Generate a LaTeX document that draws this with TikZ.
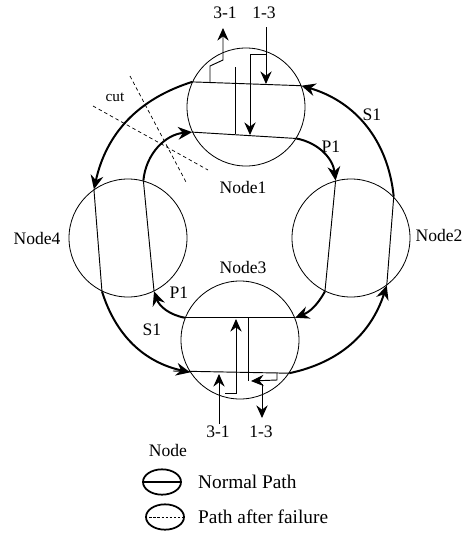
\documentclass[tikz,border=0pt]{standalone}
\usepackage{fontspec}
\setmainfont{Liberation Serif}
\usetikzlibrary{arrows.meta, shapes.geometric}

\begin{document}
\begin{tikzpicture}[
        x=0.3mm, y=0.3mm,
        ring/.style={circle, draw=black, line width=0.7pt, minimum size=35.4mm, inner sep=0pt},
        lbl/.style={font=\fontsize{15}{18}\selectfont, inner sep=0pt},
        legtext/.style={font=\fontsize{16.5}{20}\selectfont, inner sep=0pt, anchor=west},
        legring/.style={ellipse, draw=black, line width=1.5pt, minimum width=11.4mm, minimum height=7.6mm, inner sep=0pt},
        fiber/.style={line width=0.8pt},
        route/.style={line width=1.7pt, -{Stealth[length=4.2mm, width=3.8mm, inset=1.4mm]}},
        tip/.style={line width=0.8pt, -{Stealth[length=3.8mm, width=3.4mm, inset=1.3mm]}},
        cutline/.style={line width=0.6pt, dash pattern=on 3pt off 2.5pt}
    ]
    \useasboundingbox (0,0) rectangle (475,-533);

    % rings
    \node (n1) [ring] at (246,-107) {};
    \node (n2) [ring] at (351,-238) {};
    \node (n3) [ring] at (240,-340) {};
    \node (n4) [ring] at (128,-238) {};

    \node (l1) [lbl] at (243,-187) {Node1};
    \node (l2) [lbl] at (439,-235) {Node2};
    \node (l3) [lbl] at (243,-267) {Node3};
    \node (l4) [lbl] at (37,-238) {Node4};

    % paths through the rings
    \draw [fiber] (n1.155) -- (n1.21);
    \draw [fiber] (n1.205) -- (n1.328);
    \draw [fiber] (n4.125) -- (n4.244);
    \draw [fiber] (n4.75) -- (n4.296);
    \draw [fiber] (n2.105) -- (n2.244);
    \draw [fiber] (n2.44) -- (n2.307);
    \draw [fiber] (n3.158) -- (n3.22);
    \coordinate (s1end) at (173,-371);
    \draw [fiber] (s1end) -- (n3.326);

    % S1
    \draw [route] (n1.155) to[bend right=30] (n4.125);
    \draw [route] (n4.244) to[bend right=30] (n3.213);
    \draw [route] (n3.326) to[bend right=30] (n2.307);
    \draw [route] (n2.44) to[bend right=34] (n1.21);
    % P1
    \draw [route] (n1.328) to[bend left=36] (n2.105);
    \draw [route] (n2.244) to[bend left=20] (n3.22);
    \draw [route] (n3.158) to[bend left=30] (n4.296);
    \draw [route] (n4.75) to[bend left=40] (n1.205);

    \node (s1a) [lbl] at (372,-115) {S1};
    \node (p1a) [lbl] at (331,-147) {P1};
    \node (p1b) [lbl] at (179,-293) {P1};
    \node (s1b) [lbl] at (152,-330) {S1};

    % add/drop at Node1
    \node (t31) [lbl] at (225,-13) {3-1};
    \node (t13) [lbl] at (264,-13) {1-3};
    \coordinate (d31) at (223,-28);
    \coordinate (a13) at (266,-27);
    \draw [tip] (210,-83) -- (210,-66) -- (223,-60) -- (d31);
    \draw [fiber] (235,-67) -- (235,-134);
    \draw [tip] (a13) -- (266,-84);
    \draw [tip] (266,-54) -- (250,-54) -- (250,-135);

    % add/drop at Node3
    \node (b31) [lbl] at (218,-432) {3-1};
    \node (b13) [lbl] at (261,-432) {1-3};
    \coordinate (a31) at (219,-424);
    \coordinate (d13) at (262,-418);
    \draw [tip] (a31) -- (219,-374);
    \draw [tip] (225,-393) -- (236,-393) -- (236,-319);
    \draw [fiber] (248,-318) -- (248,-381);
    \draw [tip] (277,-372) -- (277,-380) -- (251,-381);
    \draw [tip] (262,-384) -- (d13);

    % cut
    \coordinate (c1) at (93,-106);
    \coordinate (c2) at (208,-170);
    \coordinate (c3) at (130,-76);
    \coordinate (c4) at (186,-182);
    \draw [cutline] (c1) -- (c2);
    \draw [cutline] (c3) -- (c4);
    \node (cut) [font=\fontsize{13}{15}\selectfont] at (115,-97) {cut};

    % legend
    \node (leg) [lbl] at (168,-450) {Node};
    \node (lg1) [legring] at (162,-482) {};
    \draw [line width=1.5pt] (lg1.west) -- (lg1.east);
    \node [legtext] at (198,-482) {Normal Path};
    \node (lg2) [legring] at (165,-517) {};
    \draw [line width=0.6pt, dash pattern=on 2pt off 1.5pt] (lg2.west) -- (lg2.east);
    \node [legtext] at (198,-517) {Path after failure};
\end{tikzpicture}
\end{document}
